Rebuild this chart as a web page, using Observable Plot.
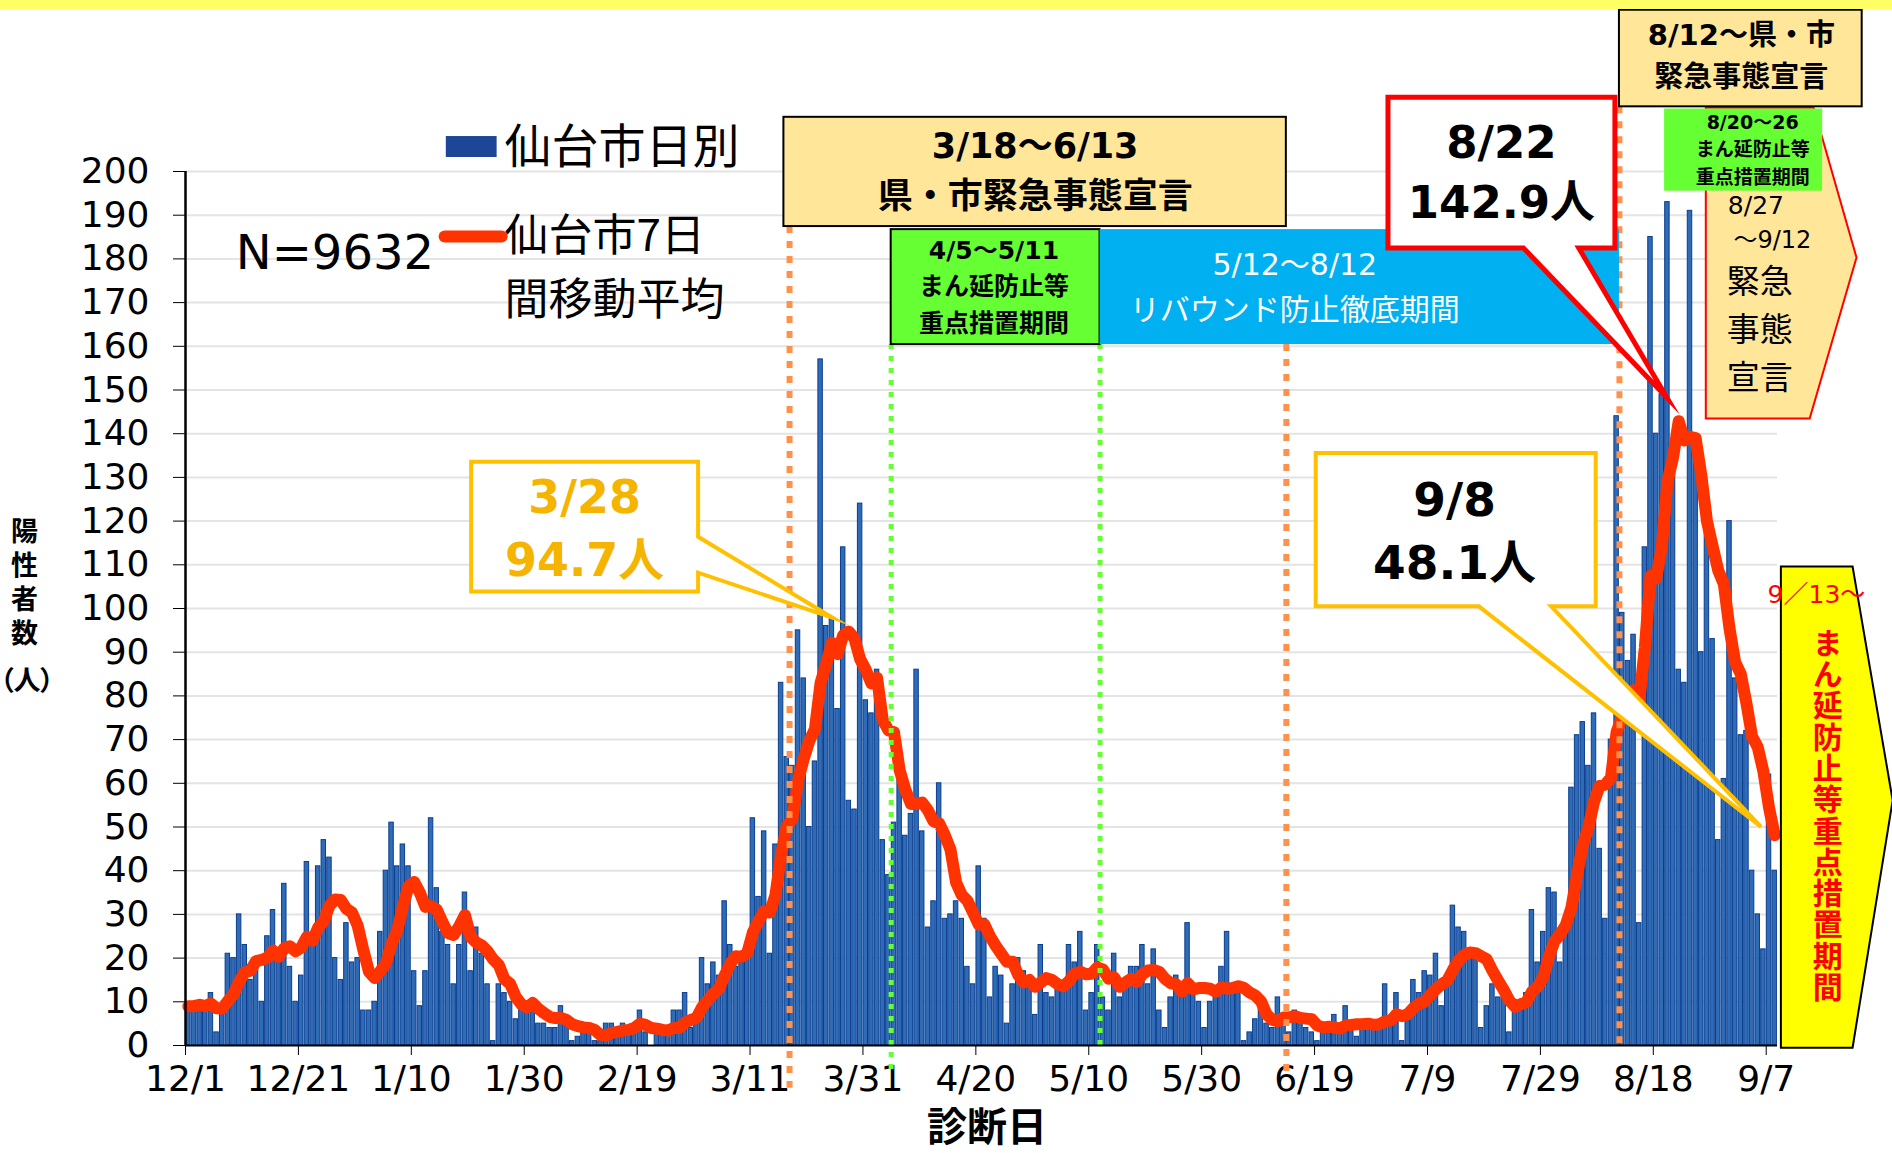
<!DOCTYPE html>
<html lang="ja">
<head>
<meta charset="utf-8">
<title>仙台市 陽性者数</title>
<script src="https://cdn.jsdelivr.net/npm/d3@7"></script>
<script src="https://cdn.jsdelivr.net/npm/@observablehq/plot@0.6"></script>
<style>
  html, body { margin: 0; padding: 0; background: #fff; }
  #wrap { position: relative; width: 1892px; height: 1153px; overflow: hidden; background: #fff; }
  #wrap svg { position: absolute; left: 0; top: 0; }
  .band { position: absolute; left: 0; top: 0; width: 1892px; height: 9px; background: #ffff66; z-index: 2; }
  .ytitle-v { position: absolute; left: 10px; top: 517px; writing-mode: vertical-rl; letter-spacing: 7px;
              font-family: "Noto Sans CJK JP", sans-serif; font-weight: 700; font-size: 27px;
              line-height: 28px; color: #000; z-index: 2; }
  .ytitle-u { position: absolute; left: 0; top: 662px; width: 48px; text-align: center;
              font-family: "Noto Sans CJK JP", sans-serif; font-weight: 700; font-size: 27px;
              line-height: 34px; color: #000; font-feature-settings: "palt"; z-index: 2; }
  .xtitle { position: absolute; left: 887px; width: 200px; top: 1104px; text-align: center;
            font-family: "Noto Sans CJK JP", sans-serif; font-weight: 700; font-size: 40px;
            line-height: 40px; color: #000; z-index: 2; }
  [aria-label^="y-axis"] text { font-size: 36px; font-family: "DejaVu Sans", sans-serif; fill: #000; }
  [aria-label^="x-axis"] text { font-size: 36px; font-family: "DejaVu Sans", sans-serif; fill: #000; }
  [aria-label^="y-axis"] line, [aria-label^="x-axis"] line { stroke-width: 2; stroke: #000; }
</style>
</head>
<body>
<div id="wrap">
  <div class="band"></div>
  <div class="ytitle-v">陽性者数</div>
  <div class="ytitle-u">（人）</div>
  <div class="xtitle">診断日</div>
</div>
<script>
// ---------------- data ----------------
const startDate = "2020-12-01";
const dailyCases = [
  9, 9, 10, 8, 12, 3, 8, 21, 20, 30, 23, 15, 18, 10, 25, 31, 20, 37, 18, 10,
  16, 42, 25, 41, 47, 43, 20, 15, 28, 19, 20, 8, 8, 10, 26, 40, 51, 41, 46, 41,
  17, 9, 17, 52, 36, 26, 23, 14, 23, 35, 17, 27, 21, 14, 1, 14, 12, 10, 6, 9,
  9, 8, 5, 5, 4, 4, 9, 6, 1, 2, 3, 3, 1, 1, 5, 5, 4, 5, 4, 4,
  8, 3, 0, 3, 3, 3, 8, 8, 12, 4, 6, 20, 14, 19, 16, 33, 23, 18, 19, 20,
  52, 34, 49, 21, 46, 83, 66, 64, 95, 84, 50, 65, 157, 96, 98, 77, 114, 56, 54, 124,
  79, 76, 86, 47, 39, 51, 63, 48, 53, 86, 49, 27, 33, 60, 29, 30, 33, 29, 18, 14,
  41, 29, 11, 18, 16, 5, 14, 20, 17, 15, 7, 23, 12, 11, 13, 14, 23, 19, 26, 8,
  12, 23, 11, 8, 21, 11, 15, 18, 18, 23, 14, 22, 8, 4, 11, 16, 11, 28, 12, 10,
  4, 10, 11, 18, 26, 13, 13, 1, 3, 6, 9, 5, 4, 11, 7, 3, 8, 6, 4, 3,
  1, 4, 4, 7, 4, 9, 4, 2, 4, 5, 5, 5, 14, 5, 12, 1, 8, 15, 12, 17,
  16, 21, 9, 14, 32, 27, 26, 20, 20, 4, 9, 14, 11, 11, 3, 10, 8, 12, 31, 19,
  26, 36, 35, 19, 27, 59, 71, 74, 64, 76, 45, 29, 70, 144, 99, 88, 94, 28, 114, 185,
  140, 149, 193, 133, 86, 83, 191, 138, 90, 119, 93, 47, 61, 120, 84, 71, 72, 40, 30, 22,
  62, 40
];
const xTickDates = ["2020-12-01","2020-12-21","2021-01-10","2021-01-30","2021-02-19","2021-03-11",
  "2021-03-31","2021-04-20","2021-05-10","2021-05-30","2021-06-19","2021-07-09","2021-07-29",
  "2021-08-18","2021-09-07"];
const xTickLabels = ["12/1","12/21","1/10","1/30","2/19","3/11","3/31","4/20","5/10","5/30",
  "6/19","7/9","7/29","8/18","9/7"];
const yTickValues = [0,10,20,30,40,50,60,70,80,90,100,110,120,130,140,150,160,170,180,190,200];
const seriesNames = ["仙台市日別", "仙台市7日", "間移動平均"];
const totalLabel = "N=9632";
const verticalNote = "まん延防止等重点措置期間";

// ---------------- helpers ----------------
const start = new Date(startDate + "T00:00:00Z");
const dt = s => new Date(s + "T00:00:00Z");
const D = n => new Date(start.getTime() + n * 864e5);   // day offset (data coordinate)
const rows = dailyCases.map((cases, i) => ({date: d3.utcDay.offset(start, i), cases}));
const tickMap = new Map(xTickDates.map((s, i) => [+dt(s), xTickLabels[i]]));

const JP = "'DejaVu Sans','Noto Sans CJK JP',sans-serif";
const JPN = "'Noto Sans CJK JP',sans-serif";

// ---------------- annotations (data coordinates: dates / values) ----------------
const orangeMarkers = [
  {date: "2021-03-18", top: 187.4, bottom: -9.8},
  {date: "2021-06-14", top: 160.4, bottom: -6.6},
  {date: "2021-08-12", top: 214.8, bottom: -1}
];
const greenMarkers = [
  {date: "2021-04-05", top: 160.4, bottom: -6.6},
  {date: "2021-05-12", top: 160.4, bottom: -1}
];

function box(from, to, bottom, top, fill, stroke) {
  return Plot.rect([{from, to, bottom, top}], {
    x1: d => dt(d.from), x2: d => dt(d.to), y1: "bottom", y2: "top",
    fill, stroke: stroke || "none", strokeWidth: stroke ? 2 : 0
  });
}
function poly(points, fill, stroke, strokeWidth) {
  return Plot.line(points, {
    x: p => D(p[0]), y: p => p[1], curve: "linear-closed",
    fill, stroke, strokeWidth, strokeLinejoin: "miter", strokeMiterlimit: 10
  });
}
function label(items, opts) {
  return Plot.text(items, {x: d => D(d.x), y: "y", text: "text", lineAnchor: "middle", ...opts});
}

const callout328 = [[50.6,133.6],[90.8,133.6],[90.8,116.4],[114.6,97.9],[90.8,108.2],[90.8,103.9],[50.6,103.9]];
const callout822 = [[213,217],[253.2,217],[253.2,182.5],[246.8,182.5],[262.4,148.3],[237,182.5],[213,182.5]];
const callout98  = [[200.2,135.6],[249.8,135.6],[249.8,100.5],[241.9,100.5],[279.1,50],[229.1,100.5],[200.2,100.5]];
const pentagon827 = [[269.3,214.6],[288.4,214.6],[296,180.3],[287.7,143.5],[269.3,143.5]];
const arrow913 = [[282.6,109.6],[295.3,109.6],[302.4,56.1],[295.3,-0.5],[282.6,-0.5]];

const chart = Plot.plot({
  width: 1892,
  height: 1153,
  marginLeft: 185,
  marginRight: 115,
  marginTop: 171,
  marginBottom: 108,
  style: {background: "transparent", overflow: "visible", fontFamily: JP},
  x: {type: "utc", domain: [start, d3.utcDay.offset(start, dailyCases.length)], ticks: xTickDates.map(dt),
      tickFormat: d => tickMap.get(+d) ?? "", tickSize: 10, tickPadding: 10, label: null},
  y: {domain: [0, 200], ticks: yTickValues, tickSize: 12, tickPadding: 24, label: null},
  marks: [
    Plot.ruleY(yTickValues.filter(v => v > 0), {stroke: "#e4e4e4", strokeWidth: 2}),
    Plot.rectY(rows, {x1: "date", x2: d => d3.utcDay.offset(d.date, 1), y: "cases",
      fill: "#2f6cb8", stroke: "#0b3c8d", strokeWidth: 1, insetLeft: 0.6, insetRight: 0.6}),
    Plot.lineY(rows, Plot.windowY({k: 7, anchor: "end", reduce: "mean", strict: false},
      {x: d => d3.utcHour.offset(d.date, 12), y: "cases", stroke: "#FF3300", strokeWidth: 12,
       strokeLinejoin: "round", strokeLinecap: "round"})),
    Plot.ruleX(orangeMarkers, {x: d => dt(d.date), y1: "top", y2: "bottom", stroke: "#FF914D",
      strokeWidth: 6, strokeDasharray: "7 8"}),
    Plot.ruleX(greenMarkers, {x: d => dt(d.date), y1: "top", y2: "bottom", stroke: "#66FF33",
      strokeWidth: 5, strokeDasharray: "5 7"}),
    Plot.ruleY([0], {stroke: "#000", strokeWidth: 2}),
    Plot.ruleX([start], {y1: 0, y2: 200, stroke: "#000", strokeWidth: 2.5}),

    // legend
    Plot.rect([{a: 46.2, b: 55.2}], {x1: d => D(d.a), x2: d => D(d.b), y1: 203.2, y2: 208, fill: "#1d4696"}),
    Plot.line([[45.9,185.1],[56,185.1]], {x: p => D(p[0]), y: p => p[1], stroke: "#FF3300", strokeWidth: 12}),
    label([{x: 56.5, y: 205.5, text: seriesNames[0]}], {textAnchor: "start", fontSize: 47, fontFamily: JPN, fill: "#000"}),
    label([{x: 56.5, y: 185.1, text: seriesNames[1]}, {x: 56.5, y: 170.4, text: seriesNames[2]}],
          {textAnchor: "start", fontSize: 44, fontFamily: JPN, fill: "#000"}),
    label([{x: 8.9, y: 181.2, text: totalLabel}], {textAnchor: "start", fontSize: 48, fill: "#000"}),

    // period boxes
    box("2021-03-17", "2021-06-14", 187.4, 212.4, "#FFE699", "#000"),
    label([{x: 150.5, y: 205.7, text: "3/18～6/13"}, {x: 150.5, y: 194.1, text: "県・市緊急事態宣言"}],
          {fontSize: 35, fontWeight: "bold", fill: "#000"}),
    box("2021-04-05", "2021-05-12", 160.4, 186.7, "#66FF33", "#000"),
    label([{x: 143.2, y: 181.9, text: "4/5～5/11"}, {x: 143.2, y: 173.6, text: "まん延防止等"},
           {x: 143.2, y: 165.2, text: "重点措置期間"}], {fontSize: 25, fontWeight: "bold", fill: "#000"}),
    box("2021-05-12", "2021-08-12", 160.4, 186.7, "#00B0F0"),
    label([{x: 196.5, y: 178.5, text: "5/12～8/12"}, {x: 196.5, y: 168.2, text: "リバウンド防止徹底期間"}],
          {fontSize: 30, fill: "#fff"}),

    // callouts
    poly(callout328, "#fff", "#FFC000", 4),
    label([{x: 70.7, y: 125.2, text: "3/28"}, {x: 70.7, y: 110.8, text: "94.7人"}],
          {fontSize: 46, fontWeight: "bold", fill: "#F5B400"}),
    poly(callout98, "#fff", "#FFC000", 4),
    label([{x: 224.8, y: 124.7, text: "9/8"}, {x: 224.8, y: 110.1, text: "48.1人"}],
          {fontSize: 47, fontWeight: "bold", fill: "#000"}),

    // right side declarations
    poly(pentagon827, "#FFE699", "#FF0000", 2),
    label([{x: 273.2, y: 192.0, text: "8/27"}], {textAnchor: "start", fontSize: 25, fill: "#000"}),
    label([{x: 274.2, y: 184.2, text: "～9/12"}], {textAnchor: "start", fontSize: 24, fill: "#000"}),
    label([{x: 273.0, y: 174.6, text: "緊急"}, {x: 273.0, y: 163.6, text: "事態"}, {x: 273.0, y: 152.6, text: "宣言"}],
          {textAnchor: "start", fontSize: 33, fontFamily: JPN, fill: "#000"}),
    box("2021-08-12", "2021-09-24", 214.8, 236.9, "#FFE699", "#000"),
    label([{x: 275.6, y: 231.1, text: "8/12～県・市"}, {x: 275.6, y: 221.5, text: "緊急事態宣言"}],
          {fontSize: 29, fontWeight: "bold", fill: "#000"}),
    box("2021-08-20", "2021-09-17", 195.5, 214.3, "#66FF33"),
    label([{x: 277.6, y: 211.2, text: "8/20～26"}, {x: 277.6, y: 204.9, text: "まん延防止等"},
           {x: 277.6, y: 198.6, text: "重点措置期間"}], {fontSize: 19, fontWeight: "bold", fill: "#000"}),
    poly(callout822, "#fff", "#FF0000", 5),
    label([{x: 233.1, y: 206.4, text: "8/22"}, {x: 233.1, y: 192.7, text: "142.9人"}],
          {fontSize: 45, fontWeight: "bold", fill: "#000"}),

    poly(arrow913, "#FFFF00", "#000", 2),
    label([{x: 288.9, y: 103, text: "9／13～"}], {fontSize: 25, fill: "#FF0000"}),
    Plot.text([{x: 290.9, y: 54.9, text: verticalNote}],
          {x: d => D(d.x), y: "y", text: "text", fontSize: 30, fontWeight: "bold", fontFamily: JPN,
           fill: "#FF0000", textAnchor: "middle"})
  ]
});
document.getElementById("wrap").appendChild(chart);

// set the long period note in vertical (top-to-bottom) writing
for (const t of chart.querySelectorAll("text")) {
  if (t.textContent === verticalNote) {
    t.removeAttribute("dy");
    t.setAttribute("writing-mode", "tb");
    t.style.writingMode = "vertical-rl";
    t.style.letterSpacing = "1.3px";
  }
}
</script>
</body>
</html>
